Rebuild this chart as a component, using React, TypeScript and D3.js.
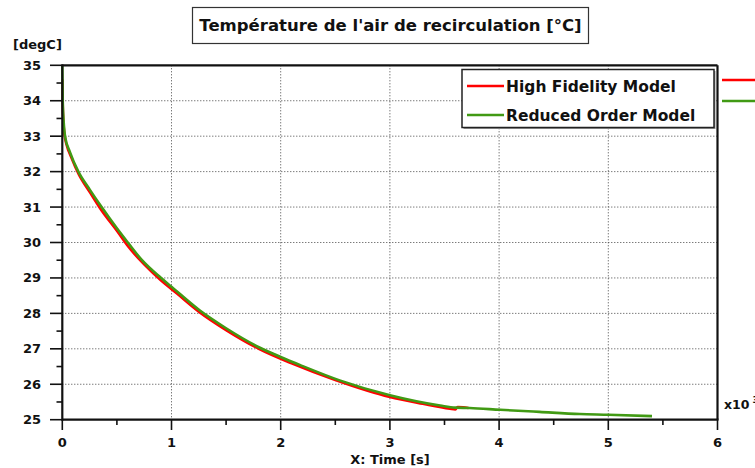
import React from 'react';
import * as d3 from 'd3';

// time in x10^3 s, temperature in degC
const hifiX = [0, 0.003, 0.01, 0.02, 0.04, 0.08, 0.15, 0.25, 0.36, 0.5, 0.6, 0.75, 0.9, 1.05, 1.25, 1.5, 1.8, 2.1, 2.5, 3.0, 3.3, 3.55, 3.6, 3.62, 3.67, 3.72];
const hifiY = [34.6, 34.0, 33.4, 33.05, 32.75, 32.42, 31.93, 31.43, 30.9, 30.33, 29.9, 29.38, 28.94, 28.56, 28.05, 27.53, 27.0, 26.59, 26.12, 25.64, 25.45, 25.31, 25.29, 25.36, 25.35, 25.33];

const romX = [0, 0.004, 0.015, 0.025, 0.07, 0.147, 0.25, 0.36, 0.5, 0.6, 0.73, 0.9, 1.0, 1.26, 1.5, 1.81, 2.0, 2.18, 2.54, 3.0, 3.46, 3.6, 3.73, 4.01, 4.37, 4.74, 5.0, 5.4];
const romY = [35, 34.0, 33.3, 33.0, 32.55, 32.0, 31.5, 31.0, 30.4, 30.0, 29.5, 29.01, 28.75, 28.08, 27.58, 27.03, 26.77, 26.54, 26.11, 25.69, 25.4, 25.34, 25.33, 25.28, 25.22, 25.16, 25.14, 25.1];

const xTicks = [0, 1, 2, 3, 4, 5, 6];
const yTicks = [25, 26, 27, 28, 29, 30, 31, 32, 33, 34, 35];
const seriesNames = ['High Fidelity Model', 'Reduced Order Model'];
const seriesColors = ['#ff0000', '#419a14'];

const FONT = "'DejaVu Sans', Verdana, sans-serif";

export default function App() {
  const x = d3.scaleLinear().domain([0, 6]).range([62.3, 717.5]);
  const y = d3.scaleLinear().domain([25, 35]).range([419.7, 65.3]);

  const line = d3.line<[number, number]>()
    .x(d => x(d[0]))
    .y(d => y(d[1]))
    .curve(d3.curveMonotoneX);

  const hifi = hifiX.map((v, i) => [v, hifiY[i]] as [number, number]);
  const rom = romX.map((v, i) => [v, romY[i]] as [number, number]);

  const minorX = d3.range(0.5, 6, 1);
  const minorY = d3.range(25.5, 35, 1);

  const [x0, x1] = x.range();
  const [y0, y1] = y.range();

  return (
    <svg width={755} height={468} style={{ position: 'absolute', left: 0, top: 0, background: '#fff' }}
      fontFamily={FONT} fontWeight="bold">
      {/* title */}
      <rect x={192.5} y={7.5} width={396} height={36} fill="#fff" stroke="#333" strokeWidth={1.2} />
      <text x={390.5} y={31} textAnchor="middle" fontSize={16.5} fill="#111">Température de l'air de recirculation [°C]</text>

      <text x={13} y={49} fontSize={13} fill="#111">[degC]</text>

      {/* grid */}
      {xTicks.slice(1, -1).map(t => (
        <line key={'gx' + t} x1={x(t)} x2={x(t)} y1={y1} y2={y0} stroke="#444" strokeWidth={1} strokeDasharray="1,2" />
      ))}
      {yTicks.slice(1, -1).map(t => (
        <line key={'gy' + t} x1={x0} x2={x1} y1={y(t)} y2={y(t)} stroke="#444" strokeWidth={1} strokeDasharray="1,2" />
      ))}

      {/* curves */}
      <path d={line(hifi) || ''} fill="none" stroke={seriesColors[0]} strokeWidth={2.6} strokeLinejoin="round" />
      <path d={line(rom) || ''} fill="none" stroke={seriesColors[1]} strokeWidth={2.6} strokeLinejoin="round" />

      {/* frame */}
      <line x1={x0} x2={x1} y1={y1} y2={y1} stroke="#111" strokeWidth={2.2} />
      <line x1={x1} x2={x1} y1={y1} y2={y0} stroke="#111" strokeWidth={2.2} />
      <line x1={x0} x2={x1 + 1} y1={y0} y2={y0} stroke="#111" strokeWidth={2.2} />
      <line x1={x0} x2={x0} y1={y1 - 1} y2={y0 + 1} stroke="#111" strokeWidth={2.2} />

      {/* y ticks */}
      {yTicks.map(t => (
        <g key={'yt' + t}>
          <line x1={50} x2={x0} y1={y(t)} y2={y(t)} stroke="#111" strokeWidth={1.6} />
          <text x={41} y={y(t) + 4.5} textAnchor="end" fontSize={13} fill="#111">{t}</text>
        </g>
      ))}
      {minorY.map(t => (
        <line key={'ym' + t} x1={56.5} x2={x0} y1={y(t)} y2={y(t)} stroke="#111" strokeWidth={1.6} />
      ))}

      {/* x ticks */}
      {xTicks.map(t => (
        <g key={'xt' + t}>
          <line x1={x(t)} x2={x(t)} y1={y0} y2={430} stroke="#111" strokeWidth={1.6} />
          <text x={x(t)} y={447} textAnchor="middle" fontSize={13} fill="#111">{t}</text>
        </g>
      ))}
      {minorX.map(t => (
        <line key={'xm' + t} x1={x(t)} x2={x(t)} y1={y0} y2={425} stroke="#111" strokeWidth={1.6} />
      ))}
      <text x={390} y={464} textAnchor="middle" fontSize={13} fill="#111">X: Time [s]</text>
      <text x={724} y={409} fontSize={12.5} fill="#111">x10<tspan dx={3} dy={-6} fontSize={9}>3</tspan></text>

      {/* legend */}
      <rect x={463.5} y={71} width={252} height={58} fill="#999" />
      <rect x={462} y={69.5} width={252} height={58} fill="#fff" stroke="#222" strokeWidth={1.5} />
      {seriesNames.map((n, i) => (
        <g key={n}>
          <line x1={467} x2={504} y1={86 + i * 29} y2={86 + i * 29} stroke={seriesColors[i]} strokeWidth={2.6} />
          <text x={506} y={92 + i * 29} fontSize={15.5} fill="#111">{n}</text>
          <line x1={722} x2={755} y1={80 + i * 21} y2={80 + i * 21} stroke={seriesColors[i]} strokeWidth={2.6} />
        </g>
      ))}
    </svg>
  );
}
